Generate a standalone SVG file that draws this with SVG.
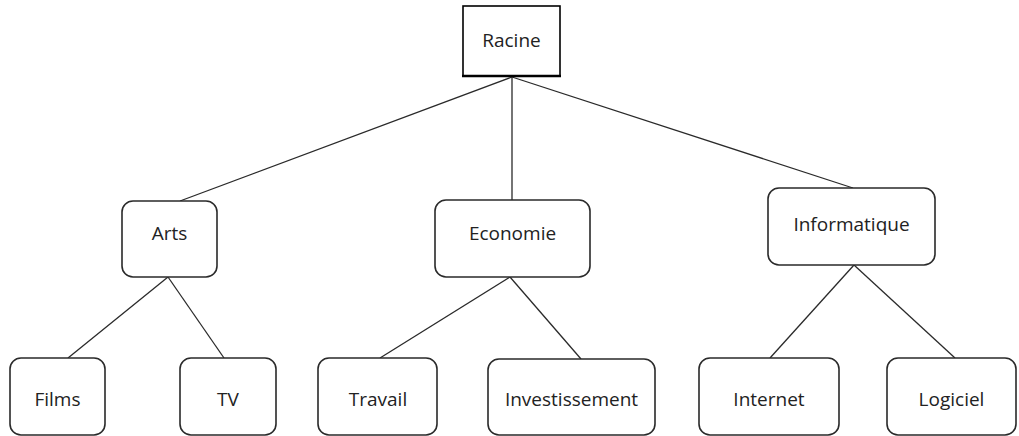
<svg xmlns="http://www.w3.org/2000/svg" width="1019" height="436" viewBox="0 0 1019 436">
  <style>
    .box { fill: #ffffff; stroke: #2a2a2a; stroke-width: 1.6; }
    .root { fill: #ffffff; stroke: #000000; stroke-width: 1.6; }
    .label { font-family: "Open Sans", "Liberation Sans", sans-serif; font-size: 19px; fill: #222222; text-anchor: middle; }
    .link { stroke: #2a2a2a; stroke-width: 1.3; fill: none; }
  </style>
  <rect width="1019" height="436" fill="#ffffff"/>

  <!-- connectors -->
  <g id="connectors">
    <line class="link" x1="512" y1="77" x2="180" y2="201"/>
    <line class="link" x1="512" y1="77" x2="512" y2="200"/>
    <line class="link" x1="512" y1="77" x2="853" y2="188"/>
    <line class="link" x1="168" y1="277" x2="68" y2="358"/>
    <line class="link" x1="168" y1="277" x2="224" y2="358"/>
    <line class="link" x1="510" y1="277" x2="380" y2="358"/>
    <line class="link" x1="510" y1="277" x2="581" y2="359"/>
    <line class="link" x1="854" y1="265" x2="770" y2="358"/>
    <line class="link" x1="854" y1="265" x2="955" y2="358"/>
  </g>

  <!-- root -->
  <g id="racine">
    <rect class="root" x="463" y="6" width="97" height="70"/>
    <line x1="462" y1="76" x2="561" y2="76" stroke="#000" stroke-width="2.5"/>
    <text class="label" x="511.5" y="47">Racine</text>
  </g>

  <!-- level 1 -->
  <g id="arts">
    <rect class="box" x="122" y="201" width="95" height="76" rx="11"/>
    <text class="label" x="169.5" y="240">Arts</text>
  </g>
  <g id="economie">
    <rect class="box" x="435" y="200" width="155" height="77" rx="11"/>
    <text class="label" x="512.5" y="240">Economie</text>
  </g>
  <g id="informatique">
    <rect class="box" x="768" y="188" width="167" height="77" rx="11"/>
    <text class="label" x="851.5" y="231">Informatique</text>
  </g>

  <!-- level 2 -->
  <g id="films">
    <rect class="box" x="10" y="358" width="95" height="77" rx="11"/>
    <text class="label" x="57.5" y="406">Films</text>
  </g>
  <g id="tv">
    <rect class="box" x="180" y="358" width="96" height="77" rx="11"/>
    <text class="label" x="228" y="406">TV</text>
  </g>
  <g id="travail">
    <rect class="box" x="318" y="358" width="119" height="77" rx="11"/>
    <text class="label" x="378" y="406">Travail</text>
  </g>
  <g id="investissement">
    <rect class="box" x="488" y="359" width="167" height="76" rx="11"/>
    <text class="label" x="571.5" y="406">Investissement</text>
  </g>
  <g id="internet">
    <rect class="box" x="699" y="358" width="140" height="77" rx="11"/>
    <text class="label" x="769" y="406">Internet</text>
  </g>
  <g id="logiciel">
    <rect class="box" x="887" y="358" width="129" height="77" rx="11"/>
    <text class="label" x="951.5" y="406">Logiciel</text>
  </g>
</svg>
